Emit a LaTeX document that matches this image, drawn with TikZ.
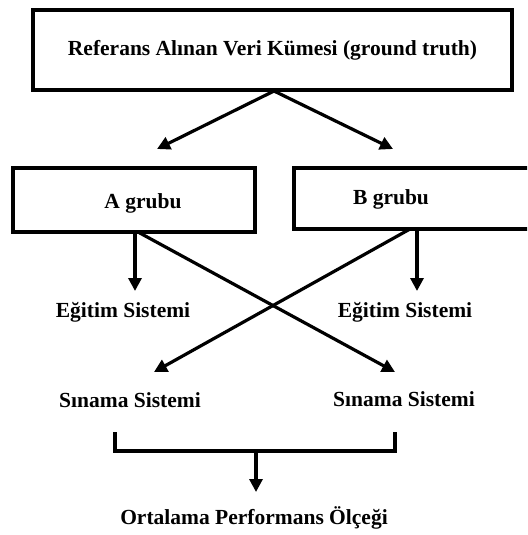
\documentclass[tikz,border=0pt]{standalone}
\usepackage{fontspec}
\setmainfont{Liberation Serif}
\usetikzlibrary{arrows.meta}
\begin{document}
\begin{tikzpicture}[x=1pt,y=-1pt,
  box/.style={draw,line width=3.6pt,inner sep=0pt},
  lbl/.style={font=\bfseries\fontsize{21.5}{25}\selectfont,inner sep=0pt},
  conn/.style={line width=3.2pt,-{Triangle[length=13pt,width=13pt]}},
  plain/.style={line width=3.2pt}]
\useasboundingbox (0,0) rectangle (527,535);
\clip (0,0) rectangle (527,535);
\node[box,minimum width=479pt,minimum height=80pt] (top) at (272.5,50) {};
\node[lbl] (toptext) at (272.5,50) {Referans Alınan Veri Kümesi (ground truth)};
\node[box,minimum width=242pt,minimum height=64pt] (A) at (134,200) {};
\node[lbl] (Atext) at (143,203) {A grubu};
\node[box,minimum width=250pt,minimum height=61pt] (B) at (419,198.5) {};
\node[lbl] (Btext) at (391,199) {B grubu};
\node[lbl] (egA) at (123,312) {Eğitim Sistemi};
\node[lbl] (egB) at (405,312) {Eğitim Sistemi};
\node[lbl] (snA) at (130,400) {Sınama Sistemi};
\node[lbl] (snB) at (404,399) {Sınama Sistemi};
\node[lbl] (ort) at (254,518) {Ortalama Performans Ölçeği};
% connector coordinates
\coordinate (t0) at (274,91);
\coordinate (tA) at (157,149);
\coordinate (tB) at (393,149);
\coordinate (a0) at (135,232);
\coordinate (a1) at (135,291);
\coordinate (b0) at (417,229);
\coordinate (b1) at (417,291);
\coordinate (ax0) at (138,232);
\coordinate (ax1) at (395,372);
\coordinate (bx0) at (410,229);
\coordinate (bx1) at (154,372);
\coordinate (bl1) at (115,432);
\coordinate (bl2) at (115,451);
\coordinate (br2) at (395,451);
\coordinate (br1) at (395,432);
\coordinate (m0) at (256,451);
\coordinate (m1) at (256,492);
\draw[conn] (t0) -- (tA);
\draw[conn] (t0) -- (tB);
\draw[conn] (a0) -- (a1);
\draw[conn] (b0) -- (b1);
\draw[conn] (ax0) -- (ax1);
\draw[conn] (bx0) -- (bx1);
\draw[plain] (bl1) -- (bl2) -- (br2) -- (br1);
\draw[conn] (m0) -- (m1);
\end{tikzpicture}
\end{document}
